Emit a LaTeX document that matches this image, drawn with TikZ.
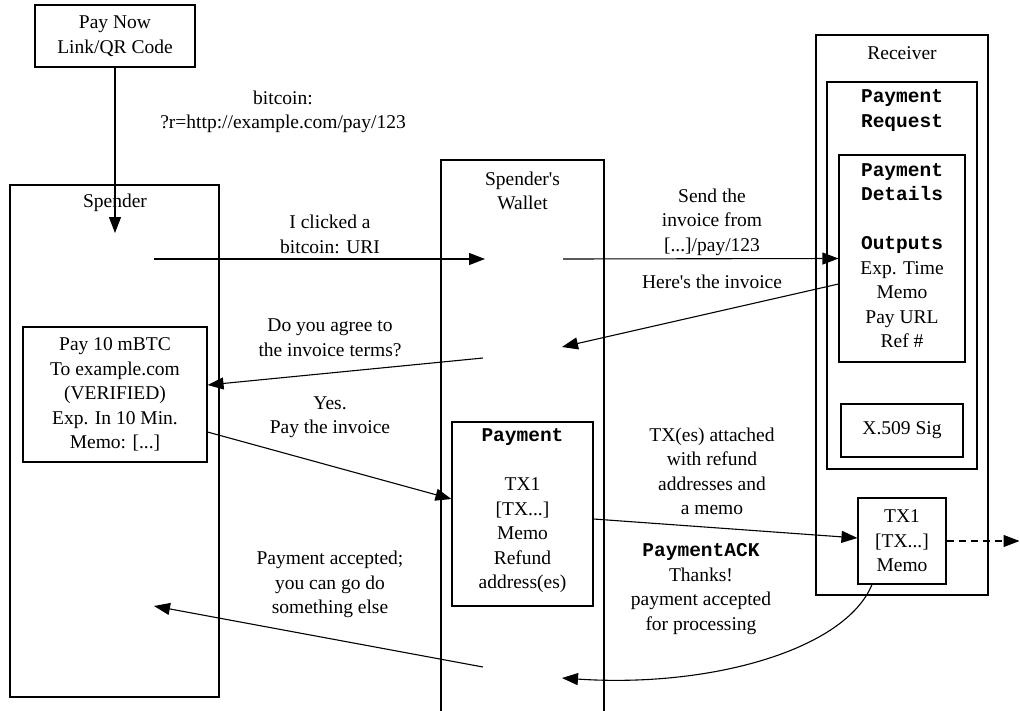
\documentclass[tikz,border=0pt]{standalone}
\usepackage{fontspec}
\setmainfont{Liberation Serif}
\setmonofont{Liberation Mono}
\usetikzlibrary{arrows.meta}
\newcommand{\bm}[1]{{\ttfamily\bfseries #1}}
\newcommand{\aps}{\textquotesingle}
\begin{document}
\begin{tikzpicture}[x=1pt,y=-1pt,
  every node/.style={font=\fontsize{19.5}{24.5}\selectfont, inner sep=0pt, align=center},
  box/.style={draw, line width=1.1pt},
  arr/.style={line width=1.1pt, -{Triangle[length=16pt,width=12pt]}},
  frame/.style={line width=1.1pt}]
\useasboundingbox (0,0) rectangle (1020,710);

% Pay now
\node[box, minimum width=160pt, minimum height=62pt] (paynow) at (115,36) {Pay Now\\Link/QR Code};

% Spender cluster
\node[box, minimum width=209pt, minimum height=512pt] (spender) at (114.5,441) {};
\node (spenderlbl) at (115,203) {Spender};
\coordinate (spin) at (115,233);
\coordinate (spout) at (154,259);
\coordinate (spin2) at (154,606);

% Wallet (open bottom)
\draw[frame] (441,712) -- (441,160) -- (604,160) -- (604,712);
\node (walletlbl) at (522.5,191) {Spender\aps s\\Wallet};
\coordinate (win) at (485,259);
\coordinate (wout) at (563,259);
\coordinate (win2) at (562,347);
\coordinate (wout2) at (483,358);
\coordinate (win3) at (562,678);
\coordinate (wout3) at (483,667);

% Receiver
\node[box, minimum width=172pt, minimum height=560pt] (receiver) at (902,315) {};
\node (receiverlbl) at (902,53) {Receiver};
\node[box, minimum width=150pt, minimum height=387pt] (payreq) at (902,275.5) {};
\node (payreqlbl) at (902,110.5) {\bm{Payment}\\\bm{Request}};
\node[box, minimum width=126pt, minimum height=207pt] (pd) at (902,258.5) {};
\node (pdlbl) at (902,255.5) {\bm{Payment}\\\bm{Details}\\[24.5pt]\bm{Outputs}\\Exp. Time\\Memo\\Pay URL\\Ref \#};
\node[box, minimum width=122pt, minimum height=53pt] (xsig) at (902,430.5) {X.509 Sig};
\node[box, minimum width=88pt, minimum height=86pt] (txr) at (902,541) {TX1\\{[TX...]}\\Memo};
\coordinate (out) at (1019.5,541);

% Spender boxes
\node[box, minimum width=184pt, minimum height=135pt] (pay10) at (115,394.5) {Pay 10 mBTC\\To example.com\\(VERIFIED)\\Exp. In 10 Min.\\Memo: {[...]}};
\node[box, minimum width=141pt, minimum height=184pt] (payment) at (522.5,514) {};
\node (paymentlbl) at (522.5,511) {\bm{Payment}\\[24.5pt]TX1\\{[TX...]}\\Memo\\Refund\\address(es)};

% Edges
\draw[arr] (paynow.south) -- (spin);
\node (l1) at (283,112) {bitcoin:\\?r=http://example.com/pay/123};

\draw[arr] (spout) -- (win);
\node (l2) at (330,234.5) {I clicked a\\bitcoin: URI};

\draw[arr] (wout) -- (pd.west);
\node (l3) at (712,222) {Send the\\invoice from\\{[...]}/pay/123};

\draw[arr] ([yshift=-25.5pt]pd.west) -- (win2);
\node (l4) at (712,282) {Here\aps s the invoice};

\draw[arr] (wout2) -- ([yshift=9.5pt]pay10.east);
\node (l5) at (330,337.5) {Do you agree to\\the invoice terms?};

\draw[arr] ([yshift=-37.5pt]pay10.east) -- ([yshift=15pt]payment.west);
\node (l6) at (330,417) {Yes.\\Pay the invoice};

\draw[arr] ([yshift=-5pt]payment.east) -- ([yshift=3pt]txr.west);
\node (l7) at (712,471.5) {TX(es) attached\\with refund\\addresses and\\a memo};

\draw[arr, dash pattern=on 7pt off 5pt] (txr.east) -- (out);

\draw[arr] ([xshift=-30pt]txr.south) .. controls (845,650) and (710,688) .. (win3);
\node (l8) at (701,589) {\bm{PaymentACK}\\Thanks!\\payment accepted\\for processing};

\draw[arr] (wout3) -- (spin2);
\node (l9) at (330,584.5) {Payment accepted;\\you can go do\\something else};
\end{tikzpicture}
\end{document}
